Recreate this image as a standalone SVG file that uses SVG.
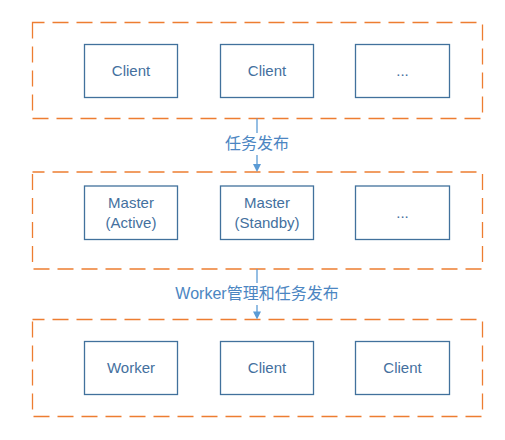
<svg xmlns="http://www.w3.org/2000/svg" width="505" height="440" viewBox="0 0 505 440">
<defs>
<style>
.grp{fill:none;stroke:#ed7d31;stroke-width:1.3;stroke-dasharray:16 8;stroke-dashoffset:4}
.box{fill:#fff;stroke:#41719c;stroke-width:1.3}
.t{font-family:"Liberation Sans",Arial,sans-serif;font-size:15px;fill:#44709e;text-anchor:middle}
.lbl{font-family:"Liberation Sans","Noto Sans CJK SC",sans-serif;font-size:16px;fill:#4c86c2;text-anchor:middle}
.ln{stroke:#5b9bd5;stroke-width:1.3;fill:none}
.ah{fill:#5b9bd5}
</style>
</defs>
<rect width="505" height="440" fill="#fff"/>
<g id="groups">
<rect id="g1" class="grp" x="32.5" y="22.5" width="450" height="96"/>
<rect id="g2" class="grp" x="32.5" y="172" width="450" height="97"/>
<rect id="g3" class="grp" x="32.5" y="319.5" width="450" height="97"/>
</g>
<g id="connectors">
<line class="ln" x1="257" y1="118.5" x2="257" y2="165"/>
<rect x="222" y="133" width="70" height="22" fill="#fff"/>
<polygon class="ah" points="253,164 261,164 257,172"/>
<text class="lbl" x="257" y="149">任务发布</text>
<line class="ln" x1="257" y1="269" x2="257" y2="312"/>
<rect x="170" y="283" width="174" height="22" fill="#fff"/>
<polygon class="ah" points="253,311.5 261,311.5 257,319.5"/>
<text class="lbl" x="257" y="299">Worker管理和任务发布</text>
</g>
<g id="n-client1"><rect class="box" x="84.5" y="44.5" width="93" height="53"/><text class="t" x="131" y="76">Client</text></g>
<g id="n-client2"><rect class="box" x="220.5" y="44.5" width="93" height="53"/><text class="t" x="267" y="76">Client</text></g>
<g id="n-more1"><rect class="box" x="355.5" y="44.5" width="94" height="53"/><text class="t" x="402.5" y="76">...</text></g>
<g id="n-master-active"><rect class="box" x="84.5" y="186" width="93" height="53.5"/><text class="t" x="131" y="207.5">Master</text><text class="t" x="131" y="227.5">(Active)</text></g>
<g id="n-master-standby"><rect class="box" x="220.5" y="186" width="93" height="53.5"/><text class="t" x="267" y="207.5">Master</text><text class="t" x="267" y="227.5">(Standby)</text></g>
<g id="n-more2"><rect class="box" x="355.5" y="186" width="94" height="53.5"/><text class="t" x="402.5" y="218">...</text></g>
<g id="n-worker"><rect class="box" x="84.5" y="341.5" width="93" height="53"/><text class="t" x="131" y="373">Worker</text></g>
<g id="n-client3"><rect class="box" x="220.5" y="341.5" width="93" height="53"/><text class="t" x="267" y="373">Client</text></g>
<g id="n-client4"><rect class="box" x="355.5" y="341.5" width="94" height="53"/><text class="t" x="402.5" y="373">Client</text></g>
</svg>
